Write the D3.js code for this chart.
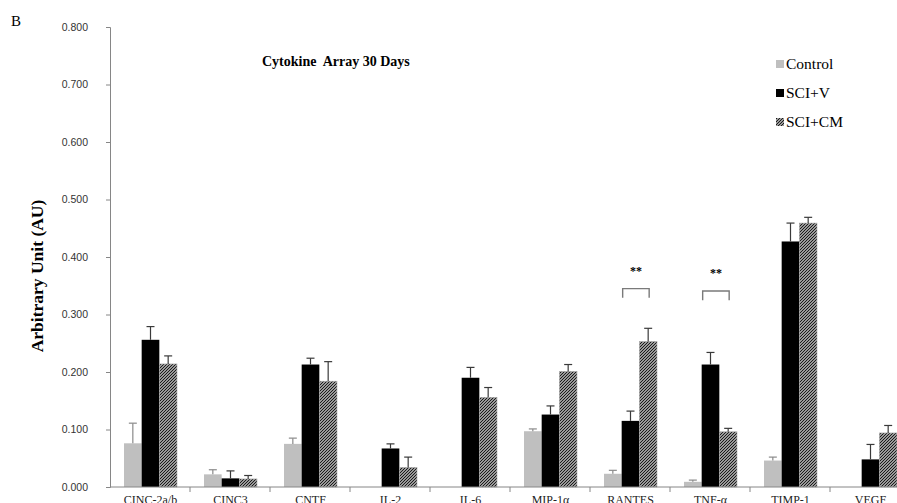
<!DOCTYPE html>
<html>
<head>
<meta charset="utf-8">
<script src="https://cdn.jsdelivr.net/npm/d3@7"></script>
<style>
  body { margin: 0; background: #fff; }
  svg { display: block; }
</style>
</head>
<body>
<div id="chart"></div>
<script>
var categories = ['CINC-2a/b', 'CINC3', 'CNTF', 'IL-2', 'IL-6', 'MIP-1\u03b1', 'RANTES', 'TNF-\u03b1', 'TIMP-1', 'VEGF'];
var series = ['Control', 'SCI+V', 'SCI+CM'];

var control    = [0.076, 0.022, 0.075, null, null, 0.097, 0.023, 0.009, 0.046, null];
var controlErr = [0.035, 0.008, 0.010, null, null, 0.004, 0.006, 0.003, 0.006, null];
var sciV       = [0.256, 0.015, 0.213, 0.067, 0.190, 0.126, 0.115, 0.213, 0.427, 0.048];
var sciVErr    = [0.023, 0.013, 0.011, 0.008, 0.018, 0.015, 0.017, 0.021, 0.032, 0.026];
var sciCM      = [0.214, 0.014, 0.184, 0.034, 0.156, 0.201, 0.253, 0.096, 0.459, 0.094];
var sciCMErr   = [0.014, 0.006, 0.034, 0.018, 0.017, 0.012, 0.023, 0.006, 0.010, 0.013];

var yTicks = [0, 0.1, 0.2, 0.3, 0.4, 0.5, 0.6, 0.7, 0.8];

// significance marks: category, bracket top and leg bottom (AU)
var sigCats = ['RANTES', 'TNF-\u03b1'];
var sigTop  = [0.345, 0.341];
var sigLeg  = [0.329, 0.325];

var width = 897, height = 503;
var SERIF = '"Liberation Serif", "Times New Roman", serif';

var svg = d3.select('#chart').append('svg')
  .attr('width', width)
  .attr('height', height);

var defs = svg.append('defs');
var pat = defs.append('pattern')
  .attr('id', 'hatch')
  .attr('patternUnits', 'userSpaceOnUse')
  .attr('width', 3)
  .attr('height', 3);
pat.append('rect').attr('width', 3).attr('height', 3).attr('fill', '#d0d0d0');
pat.append('path')
  .attr('d', 'M-1,1 L1,-1 M0,3 L3,0 M2,4 L4,2')
  .attr('stroke', '#111')
  .attr('stroke-width', 1.1);

var x0 = d3.scaleBand().domain(categories).range([110, 910]);
var x1 = d3.scaleBand().domain(series).range([14, 67]);
var y = d3.scaleLinear().domain([0, 0.8]).range([487, 27]);

var fills = { 'Control': '#bfbfbf', 'SCI+V': '#000', 'SCI+CM': 'url(#hatch)' };
var errColor = { 'Control': '#8a8a8a', 'SCI+V': '#3a3a3a', 'SCI+CM': '#3a3a3a' };

var rows = [];
categories.forEach(function(c, i) {
  rows.push({ cat: c, s: 'Control', v: control[i], e: controlErr[i] });
  rows.push({ cat: c, s: 'SCI+V', v: sciV[i], e: sciVErr[i] });
  rows.push({ cat: c, s: 'SCI+CM', v: sciCM[i], e: sciCMErr[i] });
});
rows = rows.filter(function(d) { return d.v != null; });

// y axis
var yAxis = d3.axisLeft(y)
  .tickValues(yTicks)
  .tickFormat(d3.format('.3f'))
  .tickSize(4)
  .tickPadding(18);

var gy = svg.append('g')
  .attr('transform', 'translate(110,0)')
  .call(yAxis);
gy.select('.domain').attr('stroke', '#868686');
gy.selectAll('.tick line').attr('stroke', '#868686');
gy.selectAll('.tick text')
  .attr('font-family', '"Liberation Sans", Arial, sans-serif')
  .attr('font-size', 10.5)
  .attr('fill', '#333');

// bars
svg.append('g').selectAll('rect')
  .data(rows)
  .enter()
  .append('rect')
  .attr('x', function(d) { return x0(d.cat) + x1(d.s); })
  .attr('y', function(d) { return y(d.v); })
  .attr('width', x1.bandwidth())
  .attr('height', function(d) { return y(0) - y(d.v); })
  .attr('fill', function(d) { return fills[d.s]; })
  .attr('stroke', function(d) { return d.s == 'SCI+CM' ? '#aaa' : 'none'; })
  .attr('stroke-width', 0.6);

// error bars
var eg = svg.append('g').selectAll('g')
  .data(rows.filter(function(d) { return d.e != null; }))
  .enter()
  .append('g')
  .attr('stroke', function(d) { return errColor[d.s]; })
  .attr('stroke-width', 1.2);
eg.append('line')
  .attr('x1', function(d) { return x0(d.cat) + x1(d.s) + x1.bandwidth() / 2; })
  .attr('x2', function(d) { return x0(d.cat) + x1(d.s) + x1.bandwidth() / 2; })
  .attr('y1', function(d) { return y(d.v); })
  .attr('y2', function(d) { return y(d.v + d.e); });
eg.append('line')
  .attr('x1', function(d) { return x0(d.cat) + x1(d.s) + x1.bandwidth() / 2 - 4; })
  .attr('x2', function(d) { return x0(d.cat) + x1(d.s) + x1.bandwidth() / 2 + 4; })
  .attr('y1', function(d) { return y(d.v + d.e); })
  .attr('y2', function(d) { return y(d.v + d.e); });

// x axis
var gx = svg.append('g')
  .attr('transform', 'translate(0,487)');
gx.append('line')
  .attr('x1', 110).attr('x2', 910)
  .attr('stroke', '#868686');
gx.selectAll('.tk')
  .data(categories.slice(1))
  .enter()
  .append('line')
  .attr('x1', function(d) { return x0(d); })
  .attr('x2', function(d) { return x0(d); })
  .attr('y1', 0).attr('y2', 5)
  .attr('stroke', '#868686');
gx.selectAll('text')
  .data(categories)
  .enter()
  .append('text')
  .attr('font-family', SERIF)
  .attr('x', function(d) { return x0(d) + x0.bandwidth() / 2 + 0.5; })
  .attr('y', 17)
  .attr('text-anchor', 'middle')
  .attr('font-size', 12)
  .attr('fill', '#222')
  .text(function(d) { return d; });

// significance brackets
sigCats.forEach(function(c, i) {
  var xl = x0(c) + x1('SCI+V') + 1;
  var xr = x0(c) + x1('SCI+CM') + x1.bandwidth() / 2 + 1;
  svg.append('path')
    .attr('d', 'M' + xl + ',' + y(sigLeg[i]) + 'V' + y(sigTop[i]) + 'H' + xr + 'V' + y(sigLeg[i]))
    .attr('fill', 'none')
    .attr('stroke', '#7a7a7a')
    .attr('stroke-width', 1.4);
  svg.append('text')
    .attr('font-family', SERIF)
    .attr('x', (xl + xr) / 2)
    .attr('y', y(sigTop[i]) - 14)
    .attr('text-anchor', 'middle')
    .attr('font-size', 12)
    .attr('font-weight', 'bold')
    .attr('fill', '#000')
    .text('**');
});

// title
svg.append('text')
  .attr('font-family', SERIF)
  .attr('x', 262).attr('y', 66)
  .attr('font-size', 14)
  .attr('font-weight', 'bold')
  .style('white-space', 'pre')
  .text('Cytokine  Array 30 Days');

// panel letter
svg.append('text')
  .attr('font-family', SERIF)
  .attr('x', 11).attr('y', 26)
  .attr('font-size', 15)
  .text('B');

// y label
svg.append('text')
  .attr('font-family', SERIF)
  .attr('transform', 'translate(43,276) rotate(-90)')
  .attr('text-anchor', 'middle')
  .attr('font-size', 17.5)
  .attr('font-weight', 'bold')
  .text('Arbitrary Unit (AU)');

// legend
var legY = [64, 93, 122];
var lg = svg.append('g').selectAll('g')
  .data(series)
  .enter()
  .append('g')
  .attr('transform', function(d, i) { return 'translate(776,' + legY[i] + ')'; });
lg.append('rect')
  .attr('x', 0).attr('y', -4)
  .attr('width', 8).attr('height', 8)
  .attr('fill', function(d) { return fills[d]; });
lg.append('text')
  .attr('font-family', SERIF)
  .attr('x', 10).attr('y', 5)
  .attr('font-size', 15.5)
  .text(function(d) { return d; });
</script>
</body>
</html>
